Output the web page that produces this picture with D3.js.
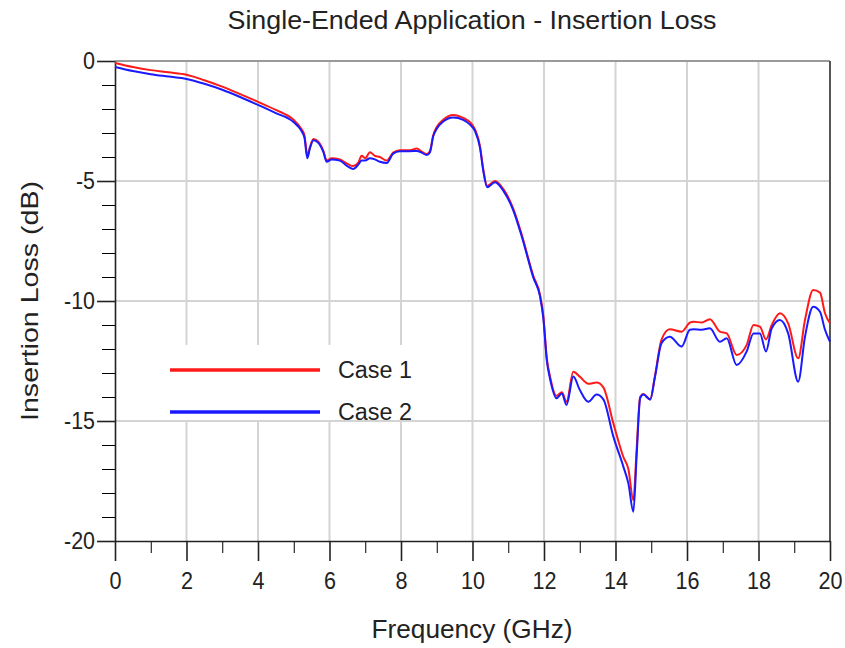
<!DOCTYPE html>
<html lang="en">
  <head>
    <meta charset="utf-8">
    <title>Single-Ended Application - Insertion Loss</title>
    <style>
      body { margin: 0; background: #fff; }
      text { font-family: "Liberation Sans", Arial, sans-serif; fill: #222; }
    </style>
  </head>
  <body>
    <div id="chart"></div>
    <script src="https://d3js.org/d3.v7.min.js"></script>
    <script>
      // frequency points (GHz) shared by both cases
      var freq = [0, 0.5, 1, 1.5, 2, 2.5, 3, 3.5, 4, 4.5, 5, 5.2, 5.3, 5.38, 5.45, 5.55, 5.68, 5.83, 5.92, 6.06,
        6.29, 6.52, 6.66, 6.8, 6.9, 7.0, 7.13, 7.27, 7.41, 7.6, 7.78, 7.97, 8.25, 8.44, 8.58, 8.72, 8.81, 8.9,
        9.0, 9.18, 9.46, 9.74, 9.93, 10.07, 10.21, 10.3, 10.41, 10.63, 10.86, 11.14, 11.38, 11.7, 11.89, 11.98,
        12.08, 12.17, 12.35, 12.5, 12.63, 12.82, 13.0, 13.24, 13.47, 13.66, 13.94, 14.22, 14.36, 14.5, 14.59,
        14.69, 14.78, 14.97, 15.1, 15.29, 15.52, 15.85, 16.08, 16.18, 16.41, 16.64, 16.92, 17.11, 17.39, 17.67,
        17.86, 18.04, 18.21, 18.37, 18.6, 18.83, 19.11, 19.3, 19.53, 19.72, 19.86, 20]

      var case1 = [-0.08, -0.25, -0.38, -0.47, -0.57, -0.8, -1.07, -1.38, -1.7, -2.04, -2.46, -2.8, -3.1, -3.95,
        -3.6, -3.25, -3.35, -3.75, -4.15, -4.05, -4.1, -4.3, -4.38, -4.25, -3.95, -4.05, -3.8, -3.95, -4.0,
        -4.15, -3.82, -3.72, -3.72, -3.65, -3.78, -3.88, -3.75, -3.1, -2.75, -2.45, -2.25, -2.37, -2.55, -2.85,
        -3.55, -4.5, -5.2, -5.0, -5.33, -6.15, -7.25, -8.95, -9.75, -10.6, -12.4, -13.15, -13.95, -13.8, -14.2,
        -12.95, -13.15, -13.45, -13.4, -13.6, -15.1, -16.5, -17.0, -18.3, -16.2, -14.0, -13.88, -14.1, -13.15,
        -11.6, -11.18, -11.28, -10.9, -10.86, -10.9, -10.76, -11.28, -11.35, -12.25, -11.83, -11.0, -11.07,
        -11.6, -11.0, -10.51, -10.93, -12.39, -10.79, -9.54, -9.65, -10.51, -10.93]

      var case2 = [-0.25, -0.42, -0.55, -0.65, -0.75, -0.95, -1.2, -1.5, -1.83, -2.17, -2.55, -2.88, -3.2, -4.05,
        -3.65, -3.3, -3.4, -3.8, -4.2, -4.1, -4.15, -4.4, -4.5, -4.33, -4.15, -4.15, -4.05, -4.1, -4.2,
        -4.25, -3.86, -3.76, -3.76, -3.75, -3.82, -3.92, -3.8, -3.15, -2.82, -2.52, -2.35, -2.45, -2.65, -2.92,
        -3.62, -4.56, -5.26, -5.05, -5.4, -6.22, -7.32, -9.02, -9.82, -10.7, -12.5, -13.25, -14.05, -13.85,
        -14.33, -13.15, -13.7, -14.2, -13.9, -14.1, -15.65, -16.9, -17.6, -18.78, -16.5, -14.05, -13.9, -14.1,
        -13.2, -11.75, -11.49, -11.9, -11.2, -11.18, -11.2, -11.14, -11.7, -11.55, -12.67, -12.1, -11.35,
        -11.35, -12.1, -11.14, -10.79, -11.35, -13.36, -11.49, -10.24, -10.45, -11.2, -11.7]

      var xTicks = [0, 2, 4, 6, 8, 10, 12, 14, 16, 18, 20]
      var yTicks = [0, -5, -10, -15, -20]
      var seriesNames = ["Case 1", "Case 2"]
      var seriesColors = ["#ff1a1a", "#1a1aff"]

      var margins = {top: 61, right: 15, bottom: 107, left: 115},
        W = 845, H = 648,
        width = W - margins.left - margins.right,
        height = H - margins.top - margins.bottom

      var svg = d3.select("#chart").append("svg")
        .attr("width", W)
        .attr("height", H)

      var g = svg.append("g")
        .attr("transform", "translate(" + margins.left + "," + margins.top + ")")

      var x = d3.scaleLinear().domain([0, 20]).range([0, width])
      var y = d3.scaleLinear().domain([-20, 0]).range([height, 0])

      // grid
      g.append("g").selectAll("line").data(xTicks.slice(1, -1)).join("line")
        .attr("x1", d => x(d)).attr("x2", d => x(d))
        .attr("y1", 0).attr("y2", height)
        .attr("stroke", "#d4d4d4").attr("stroke-width", 2)
      g.append("g").selectAll("line").data(yTicks.slice(1, -1)).join("line")
        .attr("x1", 0).attr("x2", width)
        .attr("y1", d => y(d)).attr("y2", d => y(d))
        .attr("stroke", "#d4d4d4").attr("stroke-width", 2)

      // frame top / right
      g.append("line").attr("x1", 0).attr("x2", width).attr("y1", 0).attr("y2", 0)
        .attr("stroke", "#9a9a9a").attr("stroke-width", 2)
      g.append("line").attr("x1", width).attr("x2", width).attr("y1", 0).attr("y2", height)
        .attr("stroke", "#555").attr("stroke-width", 2)

      // minor ticks
      var minorX = d3.range(1, 20, 2)
      var minorY = d3.range(-19, 0).filter(d => d % 5 !== 0)
      g.append("g")
        .attr("transform", "translate(0," + height + ")")
        .call(d3.axisBottom(x).tickValues(minorX).tickSize(12).tickFormat(""))
        .call(s => s.select(".domain").remove())
      g.append("g")
        .call(d3.axisLeft(y).tickValues(minorY).tickSize(13).tickFormat(""))
        .call(s => s.select(".domain").remove())

      // major axes (plain hyphen for negatives, like the picture)
      var xAxis = g.append("g")
        .attr("transform", "translate(0," + height + ")")
        .call(d3.axisBottom(x).tickValues(xTicks).tickSize(20).tickSizeOuter(0).tickPadding(11))
      var yAxis = g.append("g")
        .call(d3.axisLeft(y).tickValues(yTicks).tickFormat(d => String(d))
          .tickSize(18).tickSizeOuter(0).tickPadding(2))

      ;[xAxis, yAxis].forEach(function (a) {
        a.selectAll("line, path").attr("stroke", "#222").attr("stroke-width", 1.6)
        a.selectAll("text")
          .style("font-family", "'Liberation Sans', Arial, sans-serif")
          .style("font-size", "24px")
          .attr("fill", "#222")
          .attr("lengthAdjust", "spacingAndGlyphs")
      })
      // labels in the picture are narrow
      xAxis.selectAll(".tick text")
        .attr("textLength", d => String(d).length * 12)
      yAxis.selectAll(".tick text")
        .attr("textLength", d => (String(d).length - (d < 0 ? 1 : 0)) * 12 + (d < 0 ? 7 : 0))

      // legend box (covers grid)
      var legend = g.append("g")
      legend.append("rect")
        .attr("x", 35).attr("y", 284).attr("width", 305).attr("height", 75)
        .attr("fill", "#fff")

      // curves
      var line = d3.line()
        .x((d, i) => x(freq[i]))
        .y(d => y(d))
        .curve(d3.curveMonotoneX)

      ;[case1, case2].forEach(function (s, k) {
        g.append("path")
          .datum(s)
          .attr("d", line)
          .attr("fill", "none")
          .attr("stroke", seriesColors[k])
          .attr("stroke-width", 2)
          .attr("stroke-linejoin", "round")
      })

      // legend items
      seriesNames.forEach(function (name, k) {
        var ly = 309 + k * 42
        legend.append("line")
          .attr("x1", 55).attr("x2", 205)
          .attr("y1", ly).attr("y2", ly)
          .attr("stroke", seriesColors[k]).attr("stroke-width", 3.5)
        legend.append("text")
          .attr("x", 223).attr("y", ly + 8)
          .attr("textLength", 74).attr("lengthAdjust", "spacingAndGlyphs")
          .style("font-size", "23px")
          .text(name)
      })

      // titles
      svg.append("text")
        .attr("x", 472).attr("y", 29)
        .attr("text-anchor", "middle")
        .attr("textLength", 489).attr("lengthAdjust", "spacingAndGlyphs")
        .style("font-size", "25px")
        .text("Single-Ended Application - Insertion Loss")

      svg.append("text")
        .attr("x", 472).attr("y", 638)
        .attr("text-anchor", "middle")
        .attr("textLength", 201).attr("lengthAdjust", "spacingAndGlyphs")
        .style("font-size", "25px")
        .text("Frequency (GHz)")

      svg.append("text")
        .attr("transform", "translate(38,301) rotate(-90)")
        .attr("text-anchor", "middle")
        .attr("textLength", 240).attr("lengthAdjust", "spacingAndGlyphs")
        .style("font-size", "24px")
        .text("Insertion Loss (dB)")
    </script>
  </body>
</html>
